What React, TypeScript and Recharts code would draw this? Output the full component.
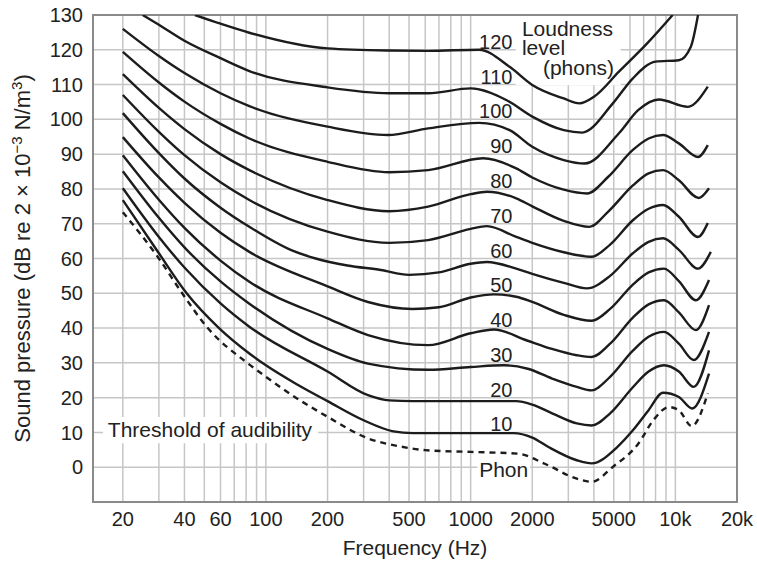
import { LineChart, Line, XAxis, YAxis, CartesianGrid, ReferenceArea, ReferenceDot } from 'recharts';

const FONT = '"Liberation Sans", Arial, Helvetica, sans-serif';
const INK = '#222';

// frequency grid (Hz) and which of those carry a label
const freqTicks = [20, 30, 40, 50, 60, 70, 80, 90, 100, 200, 300, 400, 500, 600, 700, 800, 900, 1000, 2000, 3000, 4000, 5000, 6000, 7000, 8000, 9000, 10000, 20000];
const freqLabels: Record<number, string> = { 20: '20', 40: '40', 60: '60', 100: '100', 200: '200', 500: '500', 1000: '1000', 2000: '2000', 5000: '5000', 10000: '10k', 20000: '20k' };
const levelTicks = [-10, 0, 10, 20, 30, 40, 50, 60, 70, 80, 90, 100, 110, 120, 130];

// [frequency Hz, sound pressure dB]
const phon0 = [[20, 73.3], [30, 60], [39, 50], [52, 40], [81, 30], [100, 26], [140, 20], [200, 14.5], [315, 8.3], [450, 6], [600, 4.9], [1000, 4.4], [1700, 3.9], [2300, 1], [3300, -3.3], [3900, -4.2], [4950, 0.1], [6600, 6.8], [7800, 13.5], [9300, 17.3], [10400, 16.4], [12000, 11.8], [14400, 21.2]];
const phon10 = [[20, 76.8], [30, 61.5], [41, 50], [59, 40], [83, 32.7], [100, 29.3], [140, 24], [200, 19], [300, 13.5], [420, 10.3], [520, 9.8], [1000, 9.8], [1620, 9.8], [2000, 8.5], [2400, 5.8], [3300, 2], [3900, 1.1], [5200, 5.8], [6200, 10.6], [7400, 16.4], [8700, 21.4], [10400, 20.2], [12100, 16.9], [14600, 26.9]];
const phon20 = [[20, 80.2], [30, 66.2], [40, 57.4], [60, 47.1], [83, 40.4], [200, 27.5], [315, 20.7], [400, 19.2], [520, 19], [1000, 19], [1670, 19], [2000, 18], [2500, 15.5], [3300, 12.6], [3900, 12], [4800, 15.5], [6200, 23], [7400, 27.5], [8800, 29.3], [10400, 27.5], [12300, 23.1], [14600, 33.6]];
const phon30 = [[20, 85.1], [30, 71.7], [40, 63.2], [60, 53.4], [83, 47], [200, 34], [315, 29.8], [620, 28], [1000, 28.8], [1450, 29.3], [1900, 28.3], [2500, 25.5], [3300, 23.1], [3900, 22.1], [4800, 26], [6200, 33.5], [7400, 37.5], [8800, 38.9], [10400, 35.5], [12300, 30.8], [14600, 38.9]];
const phon40 = [[20, 89.7], [30, 76.9], [40, 68.8], [60, 59.4], [83, 53.3], [200, 42.8], [315, 38], [620, 35.1], [1000, 38.5], [1300, 39.6], [1870, 36.5], [2500, 34], [3300, 32.2], [3900, 31.7], [4800, 35.5], [6200, 43], [7400, 46.8], [8800, 48], [10400, 44.5], [12600, 39.4], [14600, 46.6]];
const phon50 = [[20, 94.9], [30, 83.3], [40, 76], [60, 67.4], [83, 61.9], [200, 52], [315, 47.5], [520, 45.5], [700, 46], [1000, 48.8], [1300, 49.7], [1670, 49], [2000, 47.5], [2850, 43.8], [3900, 42.1], [4800, 45.5], [6200, 52.5], [7400, 56], [8800, 57.1], [10400, 53.5], [12600, 48], [14600, 53.8]];
const phon60 = [[20, 101.8], [30, 90.3], [40, 83], [60, 74.6], [83, 69.1], [133, 62.4], [175, 60], [250, 58], [364, 56.7], [500, 55.3], [700, 56], [1000, 58.5], [1200, 59], [1670, 57.1], [2000, 55.6], [2850, 53], [3700, 51.4], [4800, 55], [6200, 61.5], [7400, 64.8], [8700, 65.8], [10400, 62.5], [12900, 57.1], [14900, 61.9]];
const phon70 = [[20, 107], [30, 96.4], [40, 89.7], [60, 81.9], [83, 76.8], [200, 67.7], [400, 64.5], [620, 65.3], [1000, 68.5], [1200, 69.3], [1670, 66.2], [2000, 64.5], [2850, 61.8], [3900, 60.5], [4800, 64], [6200, 71], [7400, 74.3], [8700, 75.4], [10400, 72], [12900, 66.2], [14400, 70.2]];
const phon80 = [[20, 113], [30, 103.3], [40, 97.2], [60, 90], [83, 85.4], [200, 76.8], [400, 73.6], [620, 74.9], [1000, 78.5], [1200, 79.2], [1670, 77.3], [2000, 75], [2850, 70.8], [3800, 69.1], [4700, 73.5], [6200, 81], [7400, 84.5], [8700, 85.4], [10400, 82.5], [13000, 77.4], [14600, 80.2]];
const phon90 = [[20, 119.4], [30, 110.6], [40, 105.1], [60, 98.7], [83, 94.5], [200, 87.8], [400, 84.8], [620, 85.4], [1150, 88.8], [1670, 85.9], [2000, 83.3], [2850, 79.8], [3700, 78.7], [4700, 83.5], [6200, 91.2], [7400, 94.5], [8700, 95.5], [10400, 93.1], [12900, 89.2], [14400, 92.6]];
const phon100 = [[20, 126], [30, 118.2], [40, 113.3], [60, 107.5], [83, 103.8], [200, 97.9], [394, 95.5], [620, 97.4], [1100, 99], [1550, 96.9], [2000, 92.1], [2850, 88.3], [3600, 87.3], [5300, 96], [6600, 102.7], [8300, 105.7], [11500, 103.6], [14400, 109.4]];
const phon110 = [[25, 130], [30, 127.2], [40, 122.6], [60, 117.6], [83, 113.9], [200, 109.2], [400, 107.5], [620, 107.5], [1000, 108.9], [1500, 105.5], [2000, 100.8], [2850, 96.9], [3500, 96.2], [4950, 104.6], [6200, 111.8], [8000, 116.6], [10400, 117], [11900, 120.9], [12900, 130]];
const phon120 = [[45, 130], [60, 127.5], [83, 124.9], [200, 120.4], [400, 119.8], [620, 119.7], [1100, 120], [1550, 115.1], [2000, 109.9], [2850, 106], [3400, 104.6], [4000, 106.5], [5300, 113.7], [7300, 121.9], [9700, 130]];

const curves = [
  { id: 'p0', pts: phon0, dashed: true },
  { id: 'p10', pts: phon10 },
  { id: 'p20', pts: phon20 },
  { id: 'p30', pts: phon30 },
  { id: 'p40', pts: phon40 },
  { id: 'p50', pts: phon50 },
  { id: 'p60', pts: phon60 },
  { id: 'p70', pts: phon70 },
  { id: 'p80', pts: phon80 },
  { id: 'p90', pts: phon90 },
  { id: 'p100', pts: phon100 },
  { id: 'p110', pts: phon110 },
  { id: 'p120', pts: phon120 },
];

const contourLevels = [10, 20, 30, 40, 50, 60, 70, 80, 90, 100, 110, 120];

// annotation texts: [frequency, dB, text, anchor]
const notes: [number, number, string, string][] = [
  [16.9, 8.6, 'Threshold of audibility', 'start'],
  [1450, -2.9, 'Phon', 'middle'],
];

// white patches behind the annotations: [f1, f2, dB1, dB2]
const patches = [
  [16, 180, 6.9, 14.4],
  [1080, 1950, -2.6, 2.6],
  [1660, 5400, 109.8, 130],
];

const toRows = (pts: number[][]) => pts.map(([f, db]) => ({ f, db }));

const XTitle = ({ viewBox }: any) => (
  <text x={viewBox.x + viewBox.width / 2} y={viewBox.y + 53} textAnchor="middle" fontSize={21} fill={INK} fontFamily={FONT}>
    Frequency (Hz)
  </text>
);

const YTitle = ({ viewBox }: any) => {
  const x = 30;
  const y = viewBox.y + viewBox.height / 2;
  return (
    <text x={x} y={y} transform={`rotate(-90, ${x}, ${y})`} textAnchor="middle" fontSize={22} fill={INK} fontFamily={FONT}>
      Sound pressure (dB re 2 × 10<tspan dy={-8} fontSize={15}>−3</tspan>
      <tspan dy={8}> N/m</tspan>
      <tspan dy={-8} fontSize={15}>3</tspan>
      <tspan dy={8}>)</tspan>
    </text>
  );
};

// three-line legend text kept as one text element
const LoudnessNote = ({ viewBox }: any) => (
  <text x={viewBox.x} y={viewBox.y} fontSize={21} fill={INK} fontFamily={FONT}>
    <tspan x={viewBox.x}>Loudness</tspan>
    <tspan x={viewBox.x} dy={19}>level</tspan>
    <tspan x={viewBox.x + 21} dy={20}>(phons)</tspan>
  </text>
);

export default function App() {
  return (
    <div style={{ position: 'absolute', left: 0, top: 0, width: 757, height: 566 }}>
      <LineChart width={757} height={566} margin={{ top: 15, right: 20, bottom: 8, left: 0 }}>
        <CartesianGrid stroke="#c6c6c6" strokeWidth={1.5} />
        <XAxis
          dataKey="f"
          type="number"
          scale="log"
          domain={[14.3, 20000]}
          allowDataOverflow
          ticks={freqTicks}
          interval={0}
          tickFormatter={(v) => freqLabels[v] ?? ''}
          tickLine={false}
          axisLine={false}
          tickSize={0}
          tickMargin={10}
          height={56}
          tick={{ fontSize: 20, fill: INK, fontFamily: FONT }}
          label={{ content: XTitle }}
        />
        <YAxis
          type="number"
          domain={[-10, 130]}
          allowDataOverflow
          ticks={levelTicks}
          interval={0}
          tickFormatter={(v) => (v === -10 ? '' : String(v))}
          tickLine={false}
          axisLine={false}
          tickSize={0}
          tickMargin={10}
          width={93}
          tick={{ fontSize: 20, fill: INK, fontFamily: FONT }}
          label={{ content: YTitle }}
        />
        {patches.map(([f1, f2, d1, d2], i) => (
          <ReferenceArea key={`patch${i}`} x1={f1} x2={f2} y1={d1} y2={d2} fill="#fff" fillOpacity={1} stroke="none" />
        ))}
        <ReferenceArea x1={14.3} x2={20000} y1={-10} y2={130} fill="none" stroke="#8a8a8a" strokeWidth={2} />
        {curves.map((c) => (
          <Line
            key={c.id}
            data={toRows(c.pts)}
            dataKey="db"
            type="monotone"
            stroke="#1c1c1c"
            strokeWidth={2.4}
            strokeDasharray={c.dashed ? '6 5' : undefined}
            dot={false}
            activeDot={false}
            isAnimationActive={false}
          />
        ))}
        {contourLevels.map((lv) => (
          <ReferenceDot
            key={`lbl${lv}`}
            x={1600}
            y={lv}
            r={0}
            label={(p: any) => (
              <text x={p.viewBox.x} y={p.viewBox.y - 1} textAnchor="end" fontSize={20} fill={INK} fontFamily={FONT}>
                {lv}
              </text>
            )}
          />
        ))}
        {notes.map(([f, db, txt, anchor]) => (
          <ReferenceDot
            key={txt}
            x={f}
            y={db}
            r={0}
            label={(p: any) => (
              <text x={p.viewBox.x} y={p.viewBox.y} textAnchor={anchor} fontSize={21} fill={INK} fontFamily={FONT}>
                {txt}
              </text>
            )}
          />
        ))}
        <ReferenceDot x={1780} y={124} r={0} label={(p: any) => <LoudnessNote viewBox={p.viewBox} />} />
      </LineChart>
    </div>
  );
}
